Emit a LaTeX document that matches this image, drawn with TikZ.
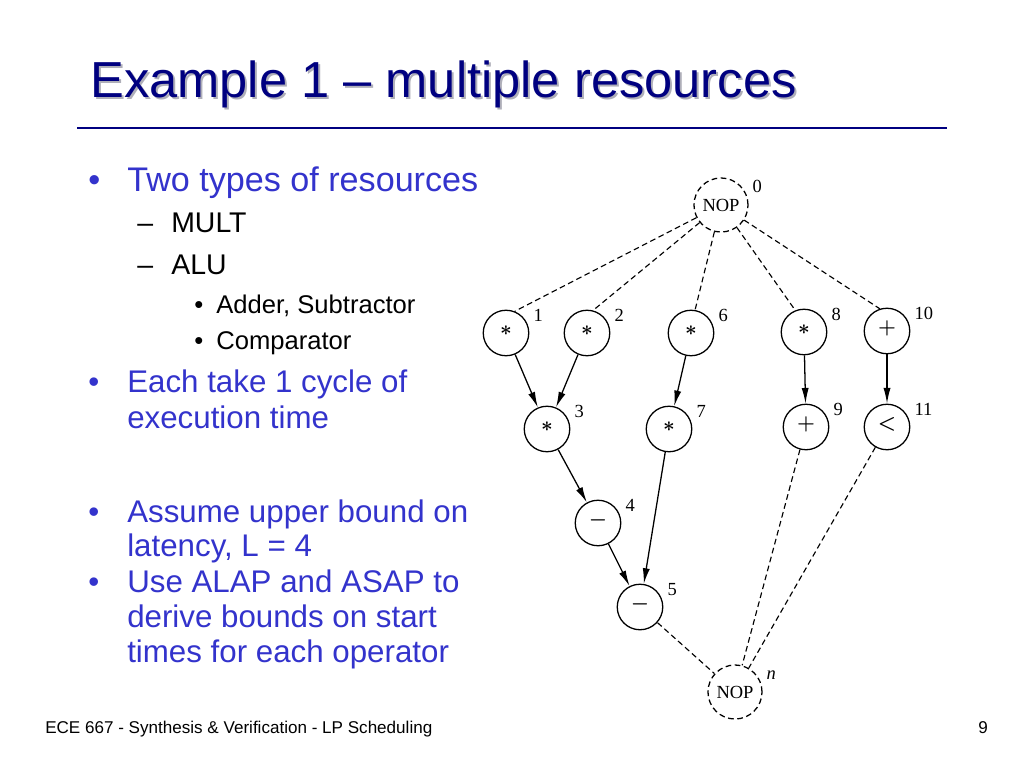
\documentclass[tikz,border=0pt]{standalone}
\usepackage{fontspec}
\setmainfont{Liberation Sans}
\newfontfamily\graphfont{Liberation Serif}
\usepackage{xcolor}
\usetikzlibrary{arrows.meta}
\definecolor{titleblue}{RGB}{0,0,128}
\definecolor{itemblue}{RGB}{51,51,204}
\definecolor{shadowgray}{RGB}{175,175,185}
\tikzset{
  op/.style={circle, draw, line width=0.9pt, minimum size=32pt, inner sep=0pt,
    font=\graphfont\fontsize{14}{16}\selectfont\boldmath, text height=3.5pt, text depth=0pt},
  nopnode/.style={op, dash pattern=on 4pt off 2.5pt, minimum size=38pt, text height=8.6pt,
    font=\graphfont\fontsize{13}{15}\selectfont},
  lbl/.style={font=\graphfont\fontsize{13}{15}\selectfont, inner sep=3.3pt},
  flow/.style={line width=0.9pt, -{Latex[length=11pt, width=5pt]}},
  dep/.style={line width=0.8pt, dash pattern=on 4pt off 2.5pt},
  lvlone/.style={anchor=base west, text=itemblue, font=\fontsize{24}{28}\selectfont, inner sep=0pt},
  lvlonesmall/.style={lvlone, font=\fontsize{22}{26}\selectfont},
  lvltwo/.style={anchor=base west, font=\fontsize{20}{24}\selectfont, inner sep=0pt},
  lvlthree/.style={anchor=base west, font=\fontsize{18}{22}\selectfont, inner sep=0pt}
}
\begin{document}
\begin{tikzpicture}[x=0.703125pt, y=-0.703125pt]
  \useasboundingbox[fill=white] (0,0) rectangle (1024,768);

  % title
  \node[anchor=base west, inner sep=0pt, text=shadowgray, font=\fontsize{35.6}{40}\selectfont] (titleshadow) at (92,100) {Example 1 -- multiple resources};
  \node[anchor=base west, inner sep=0pt, text=titleblue, font=\fontsize{35.6}{40}\selectfont] (title) at (90,98) {Example 1 -- multiple resources};
  \coordinate (ruleL) at (77,128);
  \coordinate (ruleR) at (947,128);
  \draw[titleblue, line width=2pt] (ruleL) -- (ruleR);

  % bullets
  \node[lvlone] (b1) at (88,192) {•};
  \node[lvlone] (t1) at (127,192) {Two types of resources};
  \node[lvltwo] (d1) at (137,233) {–};
  \node[lvltwo] (t2) at (171,233) {MULT};
  \node[lvltwo] (d2) at (137,275) {–};
  \node[lvltwo] (t3) at (171,275) {ALU};
  \node[lvlthree] (b2) at (194,313) {•};
  \node[lvlthree] (t4) at (216,313) {Adder, Subtractor};
  \node[lvlthree] (b3) at (194,349) {•};
  \node[lvlthree] (t5) at (216,349) {Comparator};
  \node[lvlonesmall] (b4) at (88,392) {•};
  \node[lvlonesmall] (t6) at (127,392) {Each take 1 cycle of};
  \node[lvlonesmall] (t6b) at (127,428) {execution time};
  \node[lvlonesmall] (b5) at (88,522) {•};
  \node[lvlonesmall] (t7) at (127,522) {Assume upper bound on};
  \node[lvlonesmall] (t7b) at (127,556) {latency, L = 4};
  \node[lvlonesmall] (b6) at (88,592) {•};
  \node[lvlonesmall] (t8) at (127,592) {Use ALAP and ASAP to};
  \node[lvlonesmall] (t8b) at (127,627) {derive bounds on start};
  \node[lvlonesmall] (t8c) at (127,662) {times for each operator};

  % footer
  \node[anchor=base west, inner sep=0pt, font=\fontsize{12}{14}\selectfont] (footer) at (45,733) {ECE 667 - Synthesis \& Verification - LP Scheduling};
  \node[anchor=base, inner sep=0pt, font=\fontsize{12}{14}\selectfont] (pagenum) at (983,733) {9};

  % sequencing graph
  \node[nopnode, label={[lbl]15:0}] (n0) at (721,205) {NOP};
  \node[op, label={[lbl]15:1}] (n1) at (506,333) {$\ast$};
  \node[op, label={[lbl]15:2}] (n2) at (587,333) {$\ast$};
  \node[op, label={[lbl]15:6}] (n6) at (691,333) {$\ast$};
  \node[op, label={[lbl]15:8}] (n8) at (804,332) {$\ast$};
  \node[op, label={[lbl]15:10}] (n10) at (887,331) {$+$};
  \node[op, label={[lbl]15:3}] (n3) at (547,429) {$\ast$};
  \node[op, label={[lbl]15:7}] (n7) at (669,429) {$\ast$};
  \node[op, label={[lbl]15:9}] (n9) at (806,427) {$+$};
  \node[op, label={[lbl]15:11}] (n11) at (887,427) {$<$};
  \node[op, label={[lbl]15:4}] (n4) at (598,523) {$-$};
  \node[op, label={[lbl]15:5}] (n5) at (640,607) {$-$};
  \node[nopnode, label={[lbl]15:\textit{n}}] (nn) at (735,692) {NOP};

  \draw[dep] (n0) -- (n1.68);
  \draw[dep] (n0) -- (n2.75);
  \draw[dep] (n0) -- (n6.80);
  \draw[dep] (n0) -- (n8.112);
  \draw[dep] (n0) -- (n10.108);

  \draw[flow] (n1) -- (n3);
  \draw[flow] (n2) -- (n3);
  \draw[flow] (n6) -- (n7);
  \draw[flow] (n8) -- (n9);
  \draw[flow] (n10) -- (n11);
  \draw[flow] (n3) -- (n4);
  \draw[flow] (n4) -- (n5);
  \draw[flow] (n7) -- (n5);

  \draw[dep] (n5) -- (nn);
  \draw[dep] (n9) -- (nn);
  \draw[dep] (n11) -- (nn);
\end{tikzpicture}
\end{document}
